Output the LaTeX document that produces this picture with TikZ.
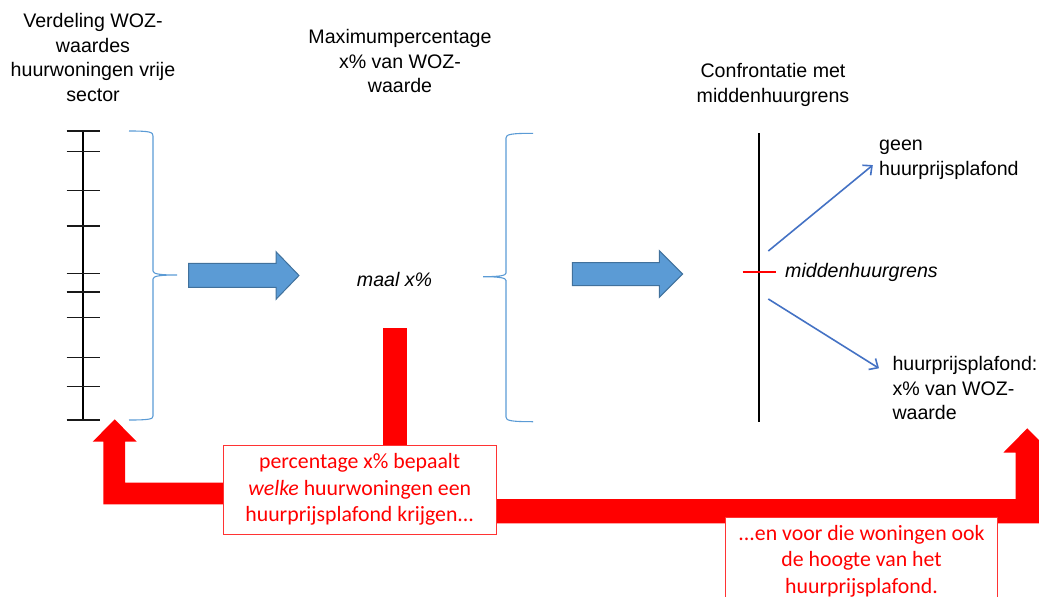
\documentclass[tikz,border=0pt]{standalone}
\usepackage{fontspec}
\setmainfont{Liberation Sans}
\newfontfamily\calibri{Carlito}
\usetikzlibrary{arrows.meta}
\definecolor{blueA}{HTML}{5B9BD5}
\definecolor{blueB}{HTML}{41719C}
\definecolor{blueC}{HTML}{4472C4}
\tikzstyle{title} = [align=center, inner sep=0pt, font=\fontsize{19.6}{24.5}\selectfont]
\tikzstyle{label} = [align=left, anchor=west, inner sep=0pt, font=\fontsize{19.6}{24.5}\selectfont]
\tikzstyle{redbox} = [rectangle, draw=red!80, line width=1pt, fill=white, align=center, text=red, inner sep=0pt, font=\calibri\fontsize{21.8}{26.5}\selectfont]
\tikzstyle{blockarrow} = [fill=blueA, draw=blueB, line width=1pt]
\tikzstyle{brace} = [draw=blueA, line width=1.1pt]
\tikzstyle{arrow} = [blueC, line width=1.6pt, -{Straight Barb[length=7pt,width=13pt]}]

\begin{document}
\begin{tikzpicture}[x=1pt, y=-1pt]
\useasboundingbox (0,0) rectangle (1039,597);

\node(verdeling) [title] at (93,57.5) {Verdeling WOZ-\\waardes\\huurwoningen vrije\\sector};
\node(maximum)   [title] at (400,61) {Maximumpercentage\\x\% van WOZ-\\waarde};
\node(confront)  [title] at (773,85) {Confrontatie met\\middenhuurgrens};

% ruler
\draw [line width=2pt] (83.3,131) -- (83.3,420);
\foreach \y in {131,151.7,190.7,226,273.7,292,317.7,357.7,386.7,420}
  \draw [black!90, line width=1.4pt] (66.7,\y) -- (100,\y);

% braces
\draw [brace] (129,131) .. controls (150,131) and (153,132) .. (153,136) -- (153,271) .. controls (153,274) and (160,275) .. (177,275) .. controls (160,275) and (153,276) .. (153,279) -- (153,416) .. controls (153,419) and (150,420) .. (129,420);
\draw [brace] (533,133.3) .. controls (510,133.3) and (506,134.5) .. (506,138) -- (506,273) .. controls (506,275.5) and (500,276.7) .. (483,276.7) .. controls (500,276.7) and (506,278) .. (506,280.5) -- (506,417) .. controls (506,420.5) and (510,421.7) .. (533,421.7);

% block arrows
\draw [blockarrow] (188.7,263.3) -- (276,263.3) -- (276,251.7) -- (299,275.5) -- (276,299.3) -- (276,287.3) -- (188.7,287.3) -- cycle;
\draw [blockarrow] (572.3,262.7) -- (659.3,262.7) -- (659.3,250.7) -- (682.7,274) -- (659.3,297.3) -- (659.3,285.7) -- (572.3,285.7) -- cycle;

\node(maal) [title, font=\fontsize{19.6}{24.5}\selectfont\itshape] at (394.5,279.3) {maal x\%};

% grens
\draw [line width=2pt] (758.7,133) -- (758.7,422);
\draw [red, line width=2pt] (742.7,272) -- (776,272);
\node(grens) [label, font=\fontsize{19.6}{24.5}\selectfont\itshape] at (785,272.7) {middenhuurgrens};
\node(geen)  [label] at (879,160) {geen\\huurprijsplafond};
\node(plafond) [label] at (892.3,388) {huurprijsplafond:\\x\% van WOZ-\\waarde};

\coordinate (up) at (768.3,251);
\coordinate (down) at (768.3,299);
\coordinate (downend) at (879,368.3);
\draw [arrow, shorten >=8pt] (up) -- (geen.west);
\draw [arrow] (down) -- (downend);

% red arrows
\fill [red] (383.3,328) rectangle (406.7,445);
\fill [red] (103.3,504.3) -- (103.3,441.7) -- (92.7,441.7) -- (114.7,419.3) -- (136.7,441.7) -- (125,441.7) -- (125,482.7) -- (300,482.7) -- (300,504.3) -- cycle;
\fill [red] (480,499) -- (1015.7,499) -- (1015.7,452.7) -- (1003.3,452.7) -- (1027.3,428.3) -- (1051.3,452.7) -- (1039,452.7) -- (1039,523.3) -- (480,523.3) -- cycle;

\node(bepaalt) [redbox, minimum width=272.7pt, minimum height=89pt] at (359.7,489.5) {percentage x\% bepaalt\\\textit{welke} huurwoningen een\\huurprijsplafond krijgen...};
\node(hoogte)  [redbox, minimum width=271.6pt, minimum height=87.4pt] at (861.5,561) {...en voor die woningen ook\\de hoogte van het\\huurprijsplafond.};

\end{tikzpicture}
\end{document}
